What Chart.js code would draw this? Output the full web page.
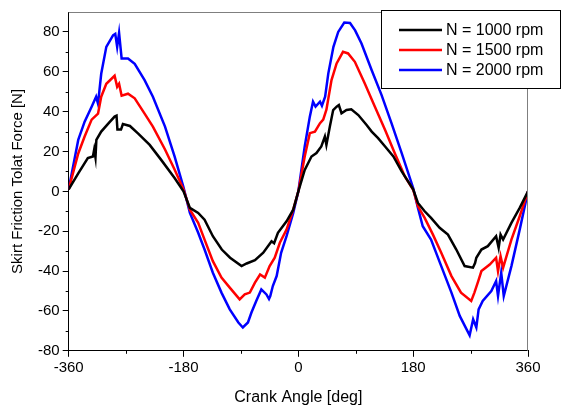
<!DOCTYPE html>
<html>
<head>
<meta charset="utf-8">
<script src="https://cdn.jsdelivr.net/npm/chart.js@4.4.1/dist/chart.umd.min.js"></script>
<style>
  html, body { margin: 0; padding: 0; background: #fff; }
  #wrap { width: 561px; height: 407px; }
</style>
</head>
<body>
<div id="wrap"><canvas id="frictionChart"></canvas></div>
<script>
// crank angle [deg] / skirt friction force [N]
var angle1000 = [-360, -345, -330, -322, -320, -318, -316.6, -309, -298, -288, -285, -283.6, -278, -275, -264, -251, -233, -215, -194, -180,
    -170, -157, -147, -134, -120, -107, -89, -81, -68, -55, -42, -38, -32, -18.5, -8, 0,
    10, 20.6, 28.4, 36, 41.6, 44, 49.4, 54.6, 60, 63.5, 67.7, 75.5, 83, 94, 107, 115, 125, 136, 149, 162, 180,
    187.5, 198, 208, 221.5, 234.5, 247.6, 260.7, 273.7, 277, 279, 287, 297, 310, 314, 317, 321, 334, 347, 360];
var force1000 = [1, 9, 16.7, 17.5, 21, 17, 25.8, 30, 34, 37.5, 38, 31, 31, 33.8, 32.8, 29, 23.3, 15.8, 6.7, 0,
    -8.3, -10.8, -14.2, -22.5, -29.2, -33.3, -37.5, -36.2, -34.5, -30.8, -25, -26, -20.8, -15, -9.2, 0,
    10.8, 17.5, 19.2, 22.5, 27.5, 23.3, 32.5, 40.8, 42.5, 43.3, 39.2, 40.8, 41.2, 38.3, 33.3, 30, 26.7, 22.5, 17.5, 10, 1,
    -5.8, -10, -13.3, -18.3, -21.7, -29.2, -37.5, -38.3, -36, -33.3, -29.2, -27.5, -22.5, -28.3, -21.7, -24.2, -15.8, -8.3, 0];

var angle1500 = [-360, -345, -335, -324, -314, -309, -301, -288, -284, -281, -277, -267, -256.5, -241, -228, -209, -194, -180,
    -170, -157, -147, -134, -120.5, -107.5, -92, -84, -76, -68, -60, -52.5, -45, -37, -29, -18.5, -8, 0,
    10, 18, 26, 34, 39, 44, 52, 60, 70, 78, 88.6, 104, 120, 136, 151, 167, 180,
    187.5, 198, 211, 224, 240, 255, 271, 276, 282, 287, 300, 310, 313, 317, 321, 334, 347, 360];
var force1500 = [1, 19, 27.5, 36, 39, 47.5, 54, 58, 52.5, 54, 48, 49, 46.7, 39, 32.5, 21, 11, 1,
    -9.2, -15.8, -24.2, -35, -43.3, -48.3, -54.2, -51.7, -50.8, -45.8, -41.7, -43.3, -37.5, -33.3, -25.8, -19.2, -9.2, 0,
    17.5, 29.2, 30, 34.2, 36, 41, 55.8, 64.2, 70, 69.2, 65, 54.2, 42.5, 30.8, 19.2, 7.5, 0.8,
    -7.5, -13.3, -21.7, -30.8, -42.5, -50.8, -55, -50.8, -45, -40, -36.7, -33.3, -40, -32.5, -38.3, -24.2, -12.5, 0];

var angle2000 = [-360, -345, -335, -324, -317, -314, -309, -301, -290.5, -287, -284, -281, -277, -267, -256.5, -241, -228, -209, -194, -180,
    -170, -157, -147, -134, -120.5, -107.5, -94, -87, -79, -73.5, -66, -58, -50, -46, -44, -40, -34, -27, -18.5, -8, 0,
    10, 18, 23, 27, 34, 37, 42, 47, 55, 62.5, 72, 81, 89, 99, 115, 130.5, 146, 162, 180,
    187.5, 195, 208, 224, 240, 253, 268.5, 274, 279, 282.6, 289, 302.5, 310, 313, 318, 322, 334, 347, 360];
var force2000 = [1, 25.8, 35, 42.5, 47.5, 44, 59, 72.5, 78.3, 79, 72.5, 79.5, 66.7, 66.7, 64, 55.8, 47.5, 32.5, 17.5, 2,
    -10.8, -20.8, -29.2, -40.8, -50.8, -59.2, -65.8, -68.3, -65.8, -60.8, -55, -49.2, -51.7, -54, -52.5, -47.5, -42.5, -30.8, -22.5, -10.8, 0,
    22.5, 37.5, 45, 42.5, 45, 43, 47.5, 59.2, 72.5, 80, 84.7, 84.5, 80.8, 74.2, 60.8, 48.3, 34.2, 19.2, 1.7,
    -8.3, -17.5, -24.2, -37.5, -50.8, -62.5, -72.2, -64.2, -68.3, -59.2, -55, -50, -45, -52.5, -40.8, -52.5, -37.5, -19.2, 0];

var seriesNames = ['N = 1000 rpm', 'N = 1500 rpm', 'N = 2000 rpm'];
var seriesColors = ['#000000', '#ff0000', '#0000ff'];
var xMinorTicks = [-270, -90, 90, 270];
var yMinorTicks = [-70, -50, -30, -10, 10, 30, 50, 70];

function toPoints(xs, ys) {
    return xs.map(function (x, i) { return { x: x, y: ys[i] }; });
}

var FONT = { family: '"Liberation Sans", Arial, sans-serif', size: 15 };
var FONT_WIDE = { family: FONT.family, size: 16 };

// cadre gris haut/droite, petites graduations, légende encadrée
var framePlugin = {
    id: 'frame',
    afterDraw: function (chart) {
        var ctx = chart.ctx, a = chart.chartArea;
        var sx = chart.scales.x, sy = chart.scales.y;
        ctx.save();
        ctx.lineWidth = 1;
        ctx.strokeStyle = '#7f7f7f';
        ctx.beginPath();
        ctx.moveTo(a.left, a.top + 0.5);
        ctx.lineTo(a.right, a.top + 0.5);
        ctx.moveTo(a.right - 0.5, a.top);
        ctx.lineTo(a.right - 0.5, a.bottom);
        ctx.stroke();

        ctx.strokeStyle = '#000';
        ctx.beginPath();
        xMinorTicks.forEach(function (v) {
            var px = Math.round(sx.getPixelForValue(v)) + 0.5;
            ctx.moveTo(px, a.bottom);
            ctx.lineTo(px, a.bottom + 3);
        });
        yMinorTicks.forEach(function (v) {
            var py = Math.round(sy.getPixelForValue(v)) + 0.5;
            ctx.moveTo(a.left - 3, py);
            ctx.lineTo(a.left, py);
        });
        ctx.stroke();

        // légende
        var bx = 381.5, by = 10.5, bw = 179, bh = 78;
        ctx.fillStyle = '#fff';
        ctx.fillRect(bx, by, bw, bh);
        ctx.strokeStyle = '#000';
        ctx.strokeRect(bx, by, bw, bh);
        ctx.font = FONT_WIDE.size + 'px ' + FONT_WIDE.family;
        ctx.textBaseline = 'middle';
        ctx.textAlign = 'left';
        chart.data.datasets.forEach(function (ds, i) {
            var ly = 30 + i * 20;
            ctx.strokeStyle = ds.borderColor;
            ctx.lineWidth = 2.5;
            ctx.beginPath();
            ctx.moveTo(399, ly);
            ctx.lineTo(442, ly);
            ctx.stroke();
            ctx.fillStyle = '#000';
            ctx.fillText(ds.label, 446, ly + 1);
        });
        ctx.restore();
    }
};

var ctx = document.getElementById('frictionChart').getContext('2d');
var chartInstance = new Chart(ctx, {
    type: 'line',
    data: {
        datasets: [
            { label: seriesNames[0], data: toPoints(angle1000, force1000), borderColor: seriesColors[0] },
            { label: seriesNames[1], data: toPoints(angle1500, force1500), borderColor: seriesColors[1] },
            { label: seriesNames[2], data: toPoints(angle2000, force2000), borderColor: seriesColors[2] }
        ]
    },
    options: {
        responsive: true,
        maintainAspectRatio: false,
        animation: false,
        parsing: false,
        datasets: {
            line: { borderWidth: 2.5, pointRadius: 0, tension: 0, fill: false }
        },
        layout: { padding: { top: 10, right: 33, left: 9, bottom: 0 } },
        plugins: {
            legend: { display: false },
            tooltip: { enabled: false }
        },
        scales: {
            x: {
                type: 'linear',
                min: -360,
                max: 360,
                ticks: { stepSize: 180, color: '#000', font: FONT, padding: 2, maxRotation: 0 },
                grid: { drawOnChartArea: false, drawTicks: true, tickLength: 6, color: '#000' },
                border: { color: '#000', width: 1 },
                title: { display: true, text: 'Crank Angle [deg]', color: '#000', font: FONT_WIDE, padding: { top: 9, bottom: 0 } }
            },
            y: {
                type: 'linear',
                min: -80,
                max: 90,
                ticks: { stepSize: 20, includeBounds: false, color: '#000', font: FONT, padding: 3 },
                grid: { drawOnChartArea: false, drawTicks: true, tickLength: 6, color: '#000' },
                border: { color: '#000', width: 1 },
                title: { display: true, text: 'Skirt Friction Tolat Force [N]', color: '#000', font: FONT, padding: { top: 0, bottom: 8 } }
            }
        }
    },
    plugins: [framePlugin]
});
</script>
</body>
</html>
